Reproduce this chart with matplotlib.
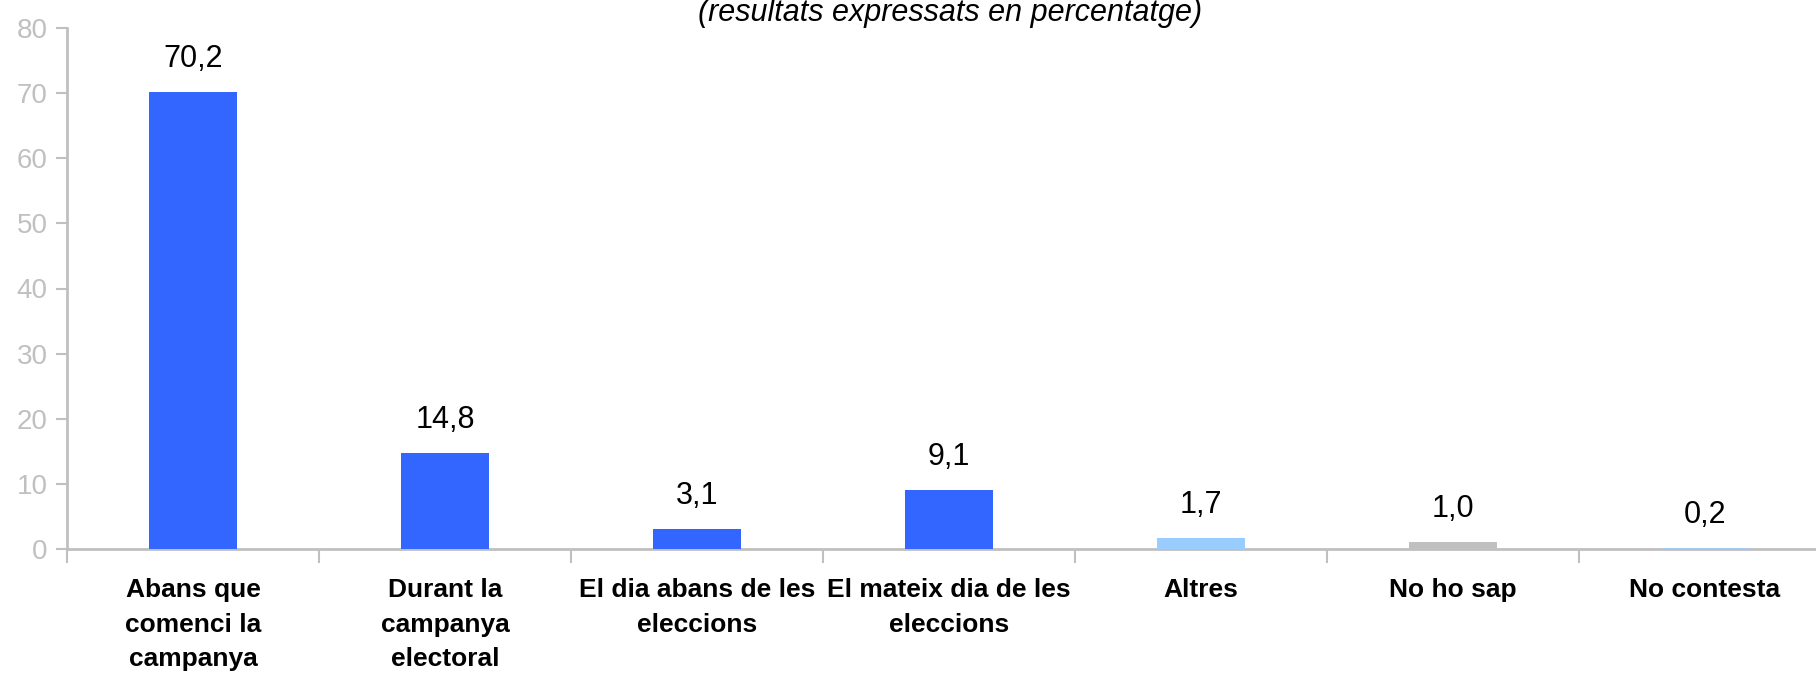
import matplotlib
matplotlib.use('Agg')
import matplotlib.pyplot as plt
import numpy as np

# ---- data ----
categories = [
    'Abans que\ncomenci la\ncampanya',
    'Durant la\ncampanya\nelectoral',
    'El dia abans de les\neleccions',
    'El mateix dia de les\neleccions',
    'Altres',
    'No ho sap',
    'No contesta',
]
values = [70.2, 14.8, 3.1, 9.1, 1.7, 1.0, 0.2]
value_labels = ['70,2', '14,8', '3,1', '9,1', '1,7', '1,0', '0,2']
bar_colors = ['#3366FF', '#3366FF', '#3366FF', '#3366FF',
              '#99CCFF', '#C0C0C0', '#A6C8EE']
y_ticks = [0, 10, 20, 30, 40, 50, 60, 70, 80]
subtitle = '(resultats expressats en percentatge)'

W, H = 1816, 675
grey = '#C0C0C0'
plt.rcParams['font.family'] = ['Liberation Sans', 'DejaVu Sans']

fig = plt.figure(figsize=(W / 100, H / 100), dpi=100)
# axes box in pixels: left 67, x axis at 549, top (80) at 28, 252 px per category
left, top, bottom = 67, 28, 549
cat_w = 252
ax = fig.add_axes([left / W, 1 - bottom / H, len(values) * cat_w / W, (bottom - top) / H])

x = np.arange(len(values))
# bars above the spine so the tiny 0,2 bar stays visible
ax.bar(x, values, width=0.35, color=bar_colors, zorder=3)

for xi, v, lab in zip(x, values, value_labels):
    ax.annotate(lab, (xi, v), xytext=(0, 13), textcoords='offset points',
                ha='center', va='bottom', fontsize=22, color='black')

ax.set_xlim(-0.5, len(values) - 0.5)
ax.set_ylim(0, 80)
ax.set_yticks(y_ticks)
ax.tick_params(axis='y', colors=grey, labelcolor=grey, labelsize=20,
               length=8, width=1.5, pad=6)

ax.set_xticks(x)
ax.set_xticklabels(categories, fontsize=19, fontweight='bold', linespacing=1.55,
                   va='top')
ax.tick_params(axis='x', which='major', length=0, pad=21)
ax.set_xticks(np.arange(len(values) + 1) - 0.5, minor=True)
ax.tick_params(axis='x', which='minor', length=10, width=1.5, color=grey,
               direction='out')

for side in ['top', 'right']:
    ax.spines[side].set_visible(False)
for side in ['left', 'bottom']:
    ax.spines[side].set_color(grey)
    ax.spines[side].set_linewidth(2)

fig.text(950 / W, 1 - 13 / H, subtitle, ha='center', va='center',
         fontsize=22, style='italic',
         family=['Liberation Sans Narrow', 'Liberation Sans'])

fig.savefig('out.png', dpi=100)
